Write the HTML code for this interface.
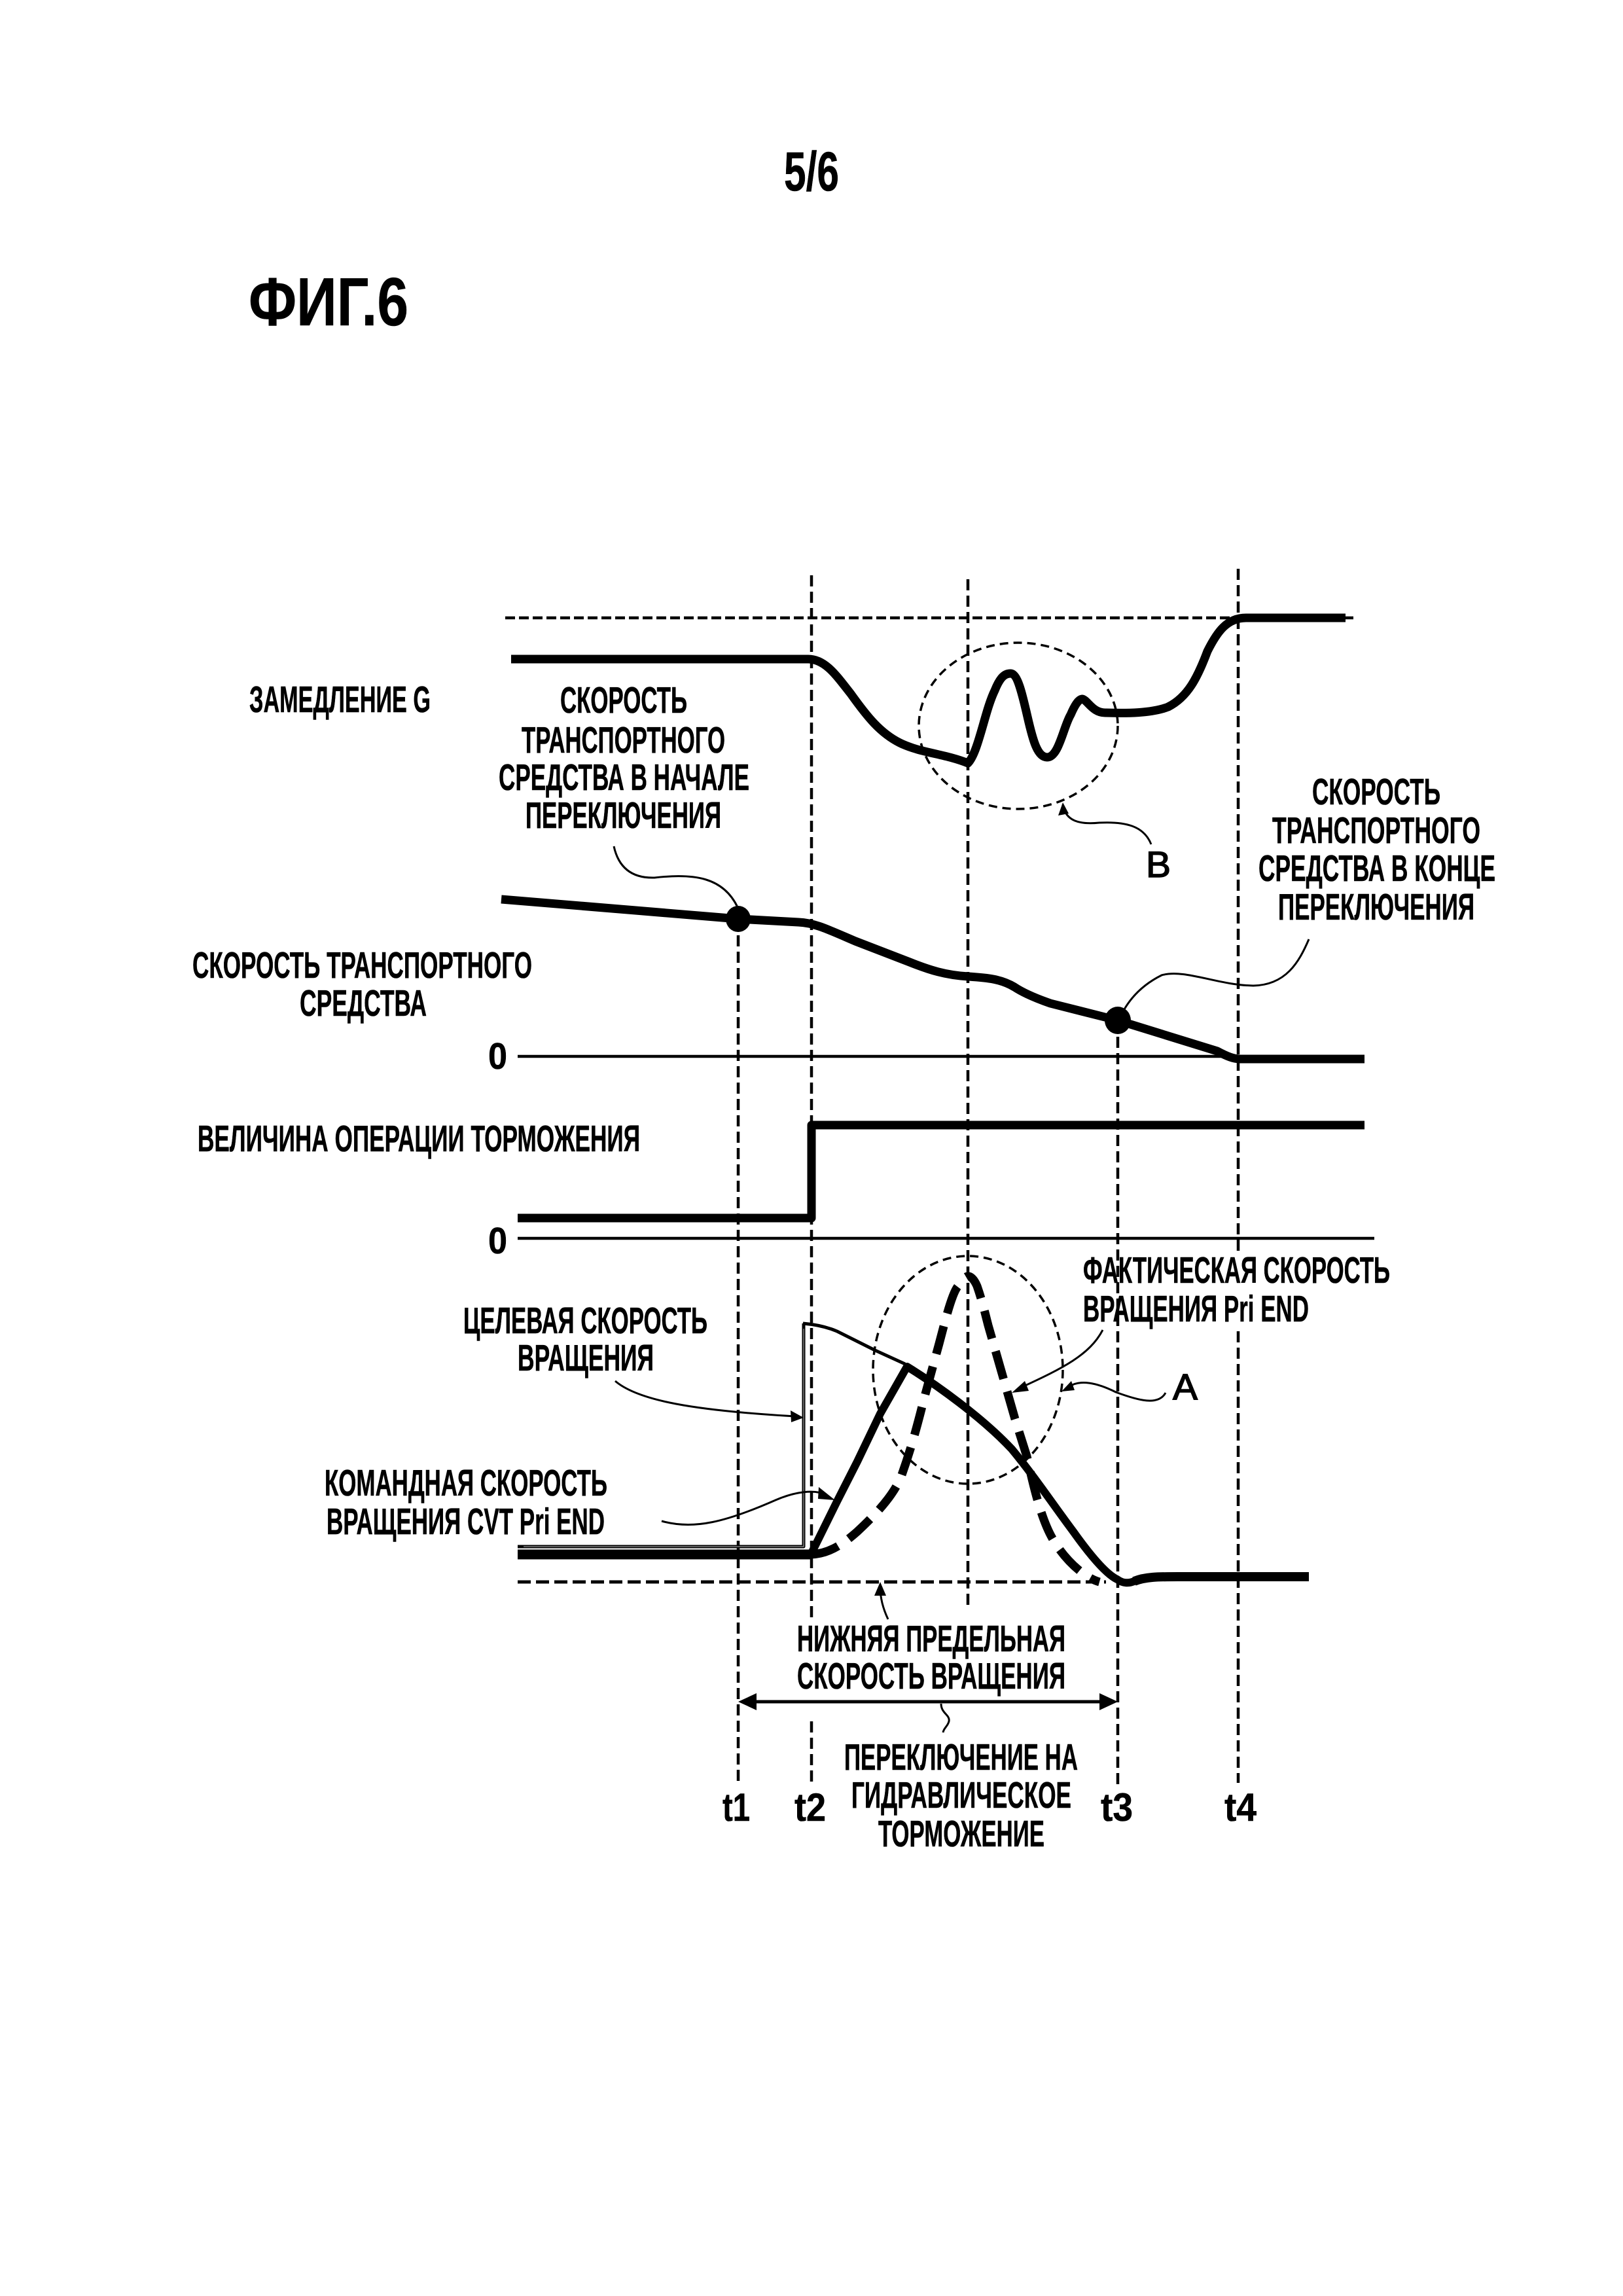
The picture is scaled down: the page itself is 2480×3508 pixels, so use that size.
<!DOCTYPE html>
<html>
<head>
<meta charset="utf-8">
<style>
html,body{margin:0;padding:0;background:#fff;}
svg{display:block;}
text{font-family:"Liberation Sans",sans-serif;font-weight:bold;fill:#000;stroke:#000;stroke-width:0.6px;font-size:57px;}
.c{fill:none;stroke:#000;stroke-linejoin:round;stroke-linecap:butt;}
</style>
</head>
<body>
<svg xmlns="http://www.w3.org/2000/svg" width="2480" height="3508" viewBox="0 0 2480 3508">
<rect width="2480" height="3508" fill="#fff"/>

<!-- titles -->
<text x="1198" y="291" style="font-size:84px" textLength="84" lengthAdjust="spacingAndGlyphs">5/6</text>
<text x="380" y="497" style="font-size:104px" textLength="244" lengthAdjust="spacingAndGlyphs">ФИГ.6</text>

<!-- vertical dashed -->
<g class="c" stroke-width="4.5" stroke-dasharray="17 8">
<path class="c" d="M1128 1404V2727"/>
<path class="c" d="M1240 879V2476M1240 2630V2727"/>
<path class="c" d="M1479 885V2456"/>
<path class="c" d="M1708 1559V2727"/>
<path class="c" d="M1892 869V1917M1892 2034V2724"/>
</g>

<!-- top dashed -->
<path class="c" stroke-width="4.5" stroke-dasharray="15 6" d="M772 944H2072"/>

<!-- G curve -->
<path class="c" stroke-width="13" d="M781 1007H1235C1262 1007 1280 1035 1300 1060C1325 1095 1345 1120 1375 1135C1405 1150 1445 1152 1479 1166C1495 1150 1505 1085 1520 1055C1528 1035 1535 1029 1544 1029C1555 1029 1562 1060 1570 1095C1578 1130 1585 1157 1600 1157C1618 1157 1625 1110 1636 1092C1642 1078 1648 1068 1654 1068C1662 1070 1670 1090 1690 1089C1720 1090 1760 1090 1785 1080C1815 1065 1830 1035 1845 995C1860 965 1875 944 1904 944H2056"/>
<ellipse class="c" cx="1556" cy="1109" rx="152" ry="127" stroke-width="3.5" stroke-dasharray="13 8"/>
<path class="c" stroke-width="3" d="M1624 1229C1628 1255 1650 1260 1680 1257C1720 1255 1748 1262 1759 1290"/>
<path d="M1624 1226L1617 1246L1633 1243Z"/>
<text x="1751" y="1340" style="font-size:56px;font-weight:normal;stroke-width:1.5px" textLength="38" lengthAdjust="spacingAndGlyphs">B</text>

<!-- speed -->
<path class="c" stroke-width="13" d="M766 1374L1128 1404L1220 1409C1245 1410 1265 1420 1307 1438L1390 1470C1420 1482 1445 1490 1480 1492C1510 1494 1530 1496 1550 1508C1565 1518 1585 1526 1605 1533L1708 1559L1860 1606C1875 1614 1885 1618 1895 1618H2085"/>
<path class="c" stroke-width="4.5" d="M791 1614H2085"/>
<ellipse cx="1128" cy="1404" rx="19" ry="20"/>
<ellipse cx="1708" cy="1559" rx="20" ry="21"/>
<path class="c" stroke-width="3" d="M938 1293C945 1325 965 1342 1000 1341C1060 1334 1105 1340 1127 1386"/>
<path class="c" stroke-width="3" d="M2000 1435C1985 1470 1965 1505 1915 1506C1860 1505 1810 1480 1775 1490C1745 1505 1728 1525 1718 1542"/>

<!-- brake -->
<polyline class="c" stroke-width="13" points="791,1861 1240,1861 1240,1719 2085,1719"/>
<path class="c" stroke-width="4.5" d="M791 1892H2100"/>

<!-- lower graph -->
<path class="c" stroke-width="5" stroke-dasharray="20 8" d="M791 2417H1690"/>
<path class="c" stroke-width="15" d="M791 2375H1240"/>
<polyline class="c" stroke-width="5" points="791,2363 1228,2363 1228,2022"/>
<polyline class="c" style="stroke:#bbb" stroke-width="1" points="800,2363 1228,2363 1228,2030"/>
<path class="c" stroke-width="5" d="M1227 2022C1250 2024 1265 2028 1279 2034L1337 2063L1383 2084"/>
<path class="c" stroke-width="12" d="M1239 2375L1279 2294L1310 2233L1345 2160L1386 2088C1430 2115 1500 2165 1546 2214C1580 2255 1610 2300 1640 2340C1665 2375 1690 2405 1707 2413C1715 2419 1725 2420 1735 2415"/>
<path class="c" stroke-width="14" d="M1733 2416C1750 2409 1770 2409 1800 2409H2000"/>
<path class="c" stroke-width="13" stroke-dasharray="44 20" d="M1239 2375C1265 2374 1285 2362 1310 2340C1340 2312 1365 2285 1377 2256C1390 2220 1400 2185 1412 2137L1435 2053C1445 2015 1455 1975 1464 1965C1470 1956 1475 1950 1479 1950C1485 1950 1490 1958 1493 1965C1500 1985 1505 2005 1510 2025L1551 2168L1569 2225C1578 2265 1590 2320 1609 2352C1625 2380 1655 2410 1680 2417"/>
<ellipse class="c" cx="1479" cy="2093" rx="145" ry="174" stroke-width="3.5" stroke-dasharray="13 8"/>

<!-- leaders -->
<path class="c" stroke-width="3" d="M940 2110C975 2140 1060 2155 1215 2164"/>
<path d="M1228 2166L1208 2155L1209 2173Z"/>
<path class="c" stroke-width="3" d="M1011 2324C1060 2338 1110 2325 1185 2292C1215 2279 1245 2275 1262 2284"/>
<path d="M1276 2292L1251 2272L1250 2290Z"/>
<path class="c" stroke-width="3" d="M1685 2032C1665 2070 1625 2090 1560 2120"/>
<path d="M1546 2128L1566 2110L1572 2125Z"/>
<path class="c" stroke-width="3" d="M1781 2128C1770 2148 1740 2140 1705 2127C1675 2112 1650 2108 1635 2118"/>
<path d="M1622 2126L1637 2110L1642 2124Z"/>
<path class="c" stroke-width="3" d="M1357 2474C1348 2455 1345 2440 1345 2425"/>
<path d="M1345 2417L1336 2438L1354 2438Z"/>

<!-- double arrow -->
<path class="c" stroke-width="5" d="M1140 2600H1696"/>
<path d="M1128 2600L1156 2587V2613Z"/>
<path d="M1708 2600L1680 2587V2613Z"/>
<path class="c" stroke-width="3" d="M1438 2603C1438 2618 1452 2620 1450 2630C1448 2638 1442 2640 1441 2647"/>

<!-- labels -->
<text x="381" y="1088" textLength="277" lengthAdjust="spacingAndGlyphs">ЗАМЕДЛЕНИЕ G</text>
<text x="856" y="1089" textLength="194" lengthAdjust="spacingAndGlyphs">СКОРОСТЬ</text>
<text x="797" y="1150" textLength="311" lengthAdjust="spacingAndGlyphs">ТРАНСПОРТНОГО</text>
<text x="762" y="1207" textLength="383" lengthAdjust="spacingAndGlyphs">СРЕДСТВА В НАЧАЛЕ</text>
<text x="803" y="1265" textLength="299" lengthAdjust="spacingAndGlyphs">ПЕРЕКЛЮЧЕНИЯ</text>

<text x="2005" y="1229" textLength="196" lengthAdjust="spacingAndGlyphs">СКОРОСТЬ</text>
<text x="1944" y="1288" textLength="318" lengthAdjust="spacingAndGlyphs">ТРАНСПОРТНОГО</text>
<text x="1923" y="1346" textLength="362" lengthAdjust="spacingAndGlyphs">СРЕДСТВА В КОНЦЕ</text>
<text x="1953" y="1405" textLength="300" lengthAdjust="spacingAndGlyphs">ПЕРЕКЛЮЧЕНИЯ</text>

<text x="294" y="1494" textLength="519" lengthAdjust="spacingAndGlyphs">СКОРОСТЬ ТРАНСПОРТНОГО</text>
<text x="458" y="1552" textLength="194" lengthAdjust="spacingAndGlyphs">СРЕДСТВА</text>
<text x="746" y="1633" textLength="29" lengthAdjust="spacingAndGlyphs">0</text>
<text x="302" y="1759" textLength="676" lengthAdjust="spacingAndGlyphs">ВЕЛИЧИНА ОПЕРАЦИИ ТОРМОЖЕНИЯ</text>
<text x="746" y="1915" textLength="29" lengthAdjust="spacingAndGlyphs">0</text>

<text x="1655" y="1960" textLength="469" lengthAdjust="spacingAndGlyphs">ФАКТИЧЕСКАЯ СКОРОСТЬ</text>
<text x="1655" y="2019" textLength="345" lengthAdjust="spacingAndGlyphs">ВРАЩЕНИЯ Pri END</text>
<text x="708" y="2037" textLength="373" lengthAdjust="spacingAndGlyphs">ЦЕЛЕВАЯ СКОРОСТЬ</text>
<text x="791" y="2094" textLength="208" lengthAdjust="spacingAndGlyphs">ВРАЩЕНИЯ</text>
<text x="496" y="2285" textLength="432" lengthAdjust="spacingAndGlyphs">КОМАНДНАЯ СКОРОСТЬ</text>
<text x="499" y="2344" textLength="425" lengthAdjust="spacingAndGlyphs">ВРАЩЕНИЯ CVT Pri END</text>
<text x="1792" y="2138" style="font-size:56px;font-weight:normal;stroke-width:1.5px" textLength="38" lengthAdjust="spacingAndGlyphs">A</text>

<text x="1218" y="2523" textLength="410" lengthAdjust="spacingAndGlyphs">НИЖНЯЯ ПРЕДЕЛЬНАЯ</text>
<text x="1218" y="2580" textLength="410" lengthAdjust="spacingAndGlyphs">СКОРОСТЬ ВРАЩЕНИЯ</text>
<text x="1290" y="2704" textLength="357" lengthAdjust="spacingAndGlyphs">ПЕРЕКЛЮЧЕНИЕ НА</text>
<text x="1301" y="2762" textLength="336" lengthAdjust="spacingAndGlyphs">ГИДРАВЛИЧЕСКОЕ</text>
<text x="1342" y="2821" textLength="254" lengthAdjust="spacingAndGlyphs">ТОРМОЖЕНИЕ</text>

<text x="1104" y="2782" style="font-size:60px" textLength="42" lengthAdjust="spacingAndGlyphs">t1</text>
<text x="1214" y="2782" style="font-size:60px" textLength="48" lengthAdjust="spacingAndGlyphs">t2</text>
<text x="1682" y="2782" style="font-size:60px" textLength="49" lengthAdjust="spacingAndGlyphs">t3</text>
<text x="1871" y="2782" style="font-size:60px" textLength="49" lengthAdjust="spacingAndGlyphs">t4</text>
</svg>
</body>
</html>
